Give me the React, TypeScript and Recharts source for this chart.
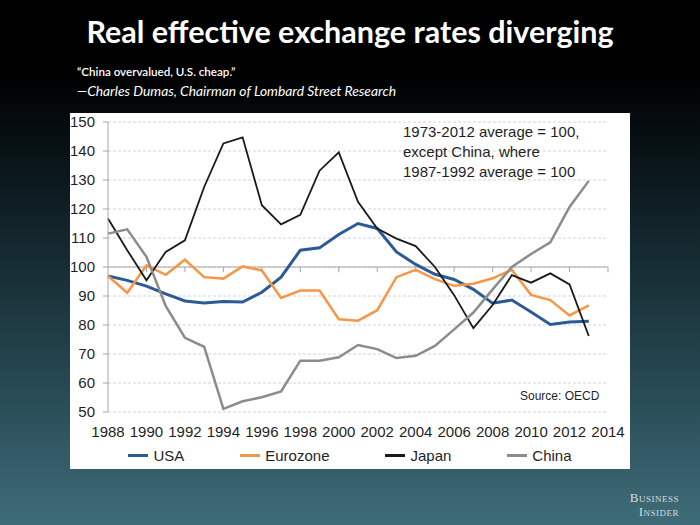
import React from 'react';
import { LineChart, Line, XAxis, YAxis, CartesianGrid, Legend, ReferenceLine } from 'recharts';

const years = [
  1988, 1989, 1990, 1991, 1992, 1993, 1994, 1995, 1996, 1997, 1998, 1999, 2000,
  2001, 2002, 2003, 2004, 2005, 2006, 2007, 2008, 2009, 2010, 2011, 2012, 2013,
];
const usa = [
  96.9, 95.4, 93.4, 90.7, 88.3, 87.6, 88.1, 87.9, 91.3, 96.5, 105.8, 106.6, 111.2,
  115, 113.3, 105.2, 100.9, 97.5, 95.7, 92.3, 87.5, 88.6, 84.5, 80.2, 81, 81.3,
];
const eurozone = [
  96.9, 91.1, 100.6, 97.3, 102.5, 96.5, 96, 100.2, 98.8, 89.3, 91.9, 91.9, 82,
  81.5, 85.1, 96.5, 99, 95.8, 93.5, 94.2, 96.1, 99, 90.4, 88.6, 83.3, 86.8,
];
const japan = [
  116.7, 105.8, 95.4, 105.2, 109.2, 127.6, 142.6, 144.7, 121.3, 114.7, 118, 133.2, 139.5,
  122.5, 113.3, 109.8, 107.2, 100, 90.3, 78.9, 86.9, 97.2, 94.6, 97.8, 94, 76.2,
];
const china = [
  111.5, 113, 103.5, 86.6, 75.6, 72.5, 51.1, 53.7, 55.1, 57.1, 67.7, 67.7, 68.9,
  73.1, 71.7, 68.6, 69.4, 72.8, 78.5, 84.3, 92.3, 100, 104.5, 108.5, 120.7, 129.7,
];
const xTicks = [1988, 1990, 1992, 1994, 1996, 1998, 2000, 2002, 2004, 2006, 2008, 2010, 2012, 2014];
const yTicks = [50, 60, 70, 80, 90, 100, 110, 120, 130, 140, 150];

const series = [
  { key: 'usa', name: 'USA', color: '#2b5b94', width: 3 },
  { key: 'eurozone', name: 'Eurozone', color: '#f79646', width: 2.5 },
  { key: 'japan', name: 'Japan', color: '#1a1a1a', width: 1.8 },
  { key: 'china', name: 'China', color: '#8c8c8c', width: 2.5 },
];

const data = years.map((year, i) => ({
  year,
  usa: usa[i],
  eurozone: eurozone[i],
  japan: japan[i],
  china: china[i],
}));

const axisGray = '#a6a6a6';
const textColor = '#1f1f1f';
const font = '"Liberation Sans", Arial, sans-serif';

const LegendContent = () => (
  <div style={{ display: 'flex', justifyContent: 'center', gap: 56, fontFamily: font, fontSize: 15, color: textColor }}>
    {series.map((s) => (
      <div key={s.key} style={{ display: 'flex', alignItems: 'center' }}>
        <span style={{ display: 'inline-block', width: 20, height: 3, background: s.color, marginRight: 5 }} />
        <span>{s.name}</span>
      </div>
    ))}
  </div>
);

export default function App() {
  return (
    <div
      style={{
        position: 'fixed',
        left: 0,
        top: 0,
        width: 700,
        height: 525,
        overflow: 'hidden',
        background: 'linear-gradient(180deg, #000 0%, #000 14%, #0c1a1f 35%, #24454e 70%, #3f6c79 100%)',
      }}
    >
      <div
        style={{
          position: 'absolute',
          top: 13,
          left: 0,
          width: 700,
          textAlign: 'center',
          color: '#fff',
          fontFamily: 'Lato, sans-serif',
          fontWeight: 700,
          fontSize: 30.5,
        }}
      >
        Real effective exchange rates diverging
      </div>
      <div style={{ position: 'absolute', top: 65, left: 77, color: '#fff', fontFamily: 'Lato, sans-serif', fontSize: 11.6, fontWeight: 600 }}>
        “China overvalued, U.S. cheap.”
      </div>
      <div style={{ position: 'absolute', top: 82, left: 77, color: '#fff', fontFamily: 'Lato, sans-serif', fontSize: 13.8, fontStyle: 'italic' }}>
        —Charles Dumas, Chairman of Lombard Street Research
      </div>

      <div style={{ position: 'absolute', left: 70, top: 113, width: 560, height: 356, background: '#fff' }}>
        <LineChart width={560} height={356} data={data} margin={{ top: 9, right: 22, left: 0, bottom: 0 }}>
          <CartesianGrid vertical={false} stroke="#d4d4d4" strokeDasharray="3 2" />
          <XAxis
            dataKey="year"
            type="number"
            domain={[1988, 2014]}
            ticks={xTicks}
            interval={0}
            axisLine={false}
            tickLine={false}
            tickSize={0}
            tickMargin={14}
            height={57}
            tick={{ fill: textColor, fontSize: 15, fontFamily: font }}
          />
          <YAxis
            domain={[50, 150]}
            ticks={yTicks}
            interval={0}
            width={38}
            axisLine={{ stroke: axisGray }}
            tickLine={{ stroke: axisGray }}
            tickSize={5}
            tickMargin={8}
            tick={{ fill: textColor, fontSize: 15, fontFamily: font }}
          />
          <ReferenceLine y={100} stroke={axisGray} strokeWidth={1} />
          {xTicks.slice(1).map((t) => (
            <ReferenceLine
              key={t}
              segment={[
                { x: t, y: 100 },
                { x: t, y: 98.2 },
              ]}
              stroke={axisGray}
            />
          ))}
          {series.map((s) => (
            <Line
              key={s.key}
              type="linear"
              dataKey={s.key}
              name={s.name}
              stroke={s.color}
              strokeWidth={s.width}
              dot={false}
              isAnimationActive={false}
            />
          ))}
          <Legend
            layout="horizontal"
            verticalAlign="middle"
            align="center"
            content={LegendContent}
            wrapperStyle={{ top: 334, left: 0, width: 560 }}
          />
        </LineChart>
        <div style={{ position: 'absolute', left: 333, top: 9, fontFamily: font, fontSize: 15, lineHeight: '20px', color: textColor }}>
          1973-2012 average = 100,
          <br />
          except China, where
          <br />
          1987-1992 average = 100
        </div>
        <div style={{ position: 'absolute', left: 450, top: 276, fontFamily: font, fontSize: 12, color: textColor }}>
          Source: OECD
        </div>
      </div>

      <div
        style={{
          position: 'absolute',
          right: 21,
          top: 491,
          textAlign: 'right',
          color: '#d5dde0',
          fontFamily: '"Liberation Serif", "DejaVu Serif", serif',
          fontVariant: 'small-caps',
          fontSize: 13,
          lineHeight: '14px',
          letterSpacing: 0.5,
        }}
      >
        Business
        <br />
        Insider
      </div>
    </div>
  );
}
